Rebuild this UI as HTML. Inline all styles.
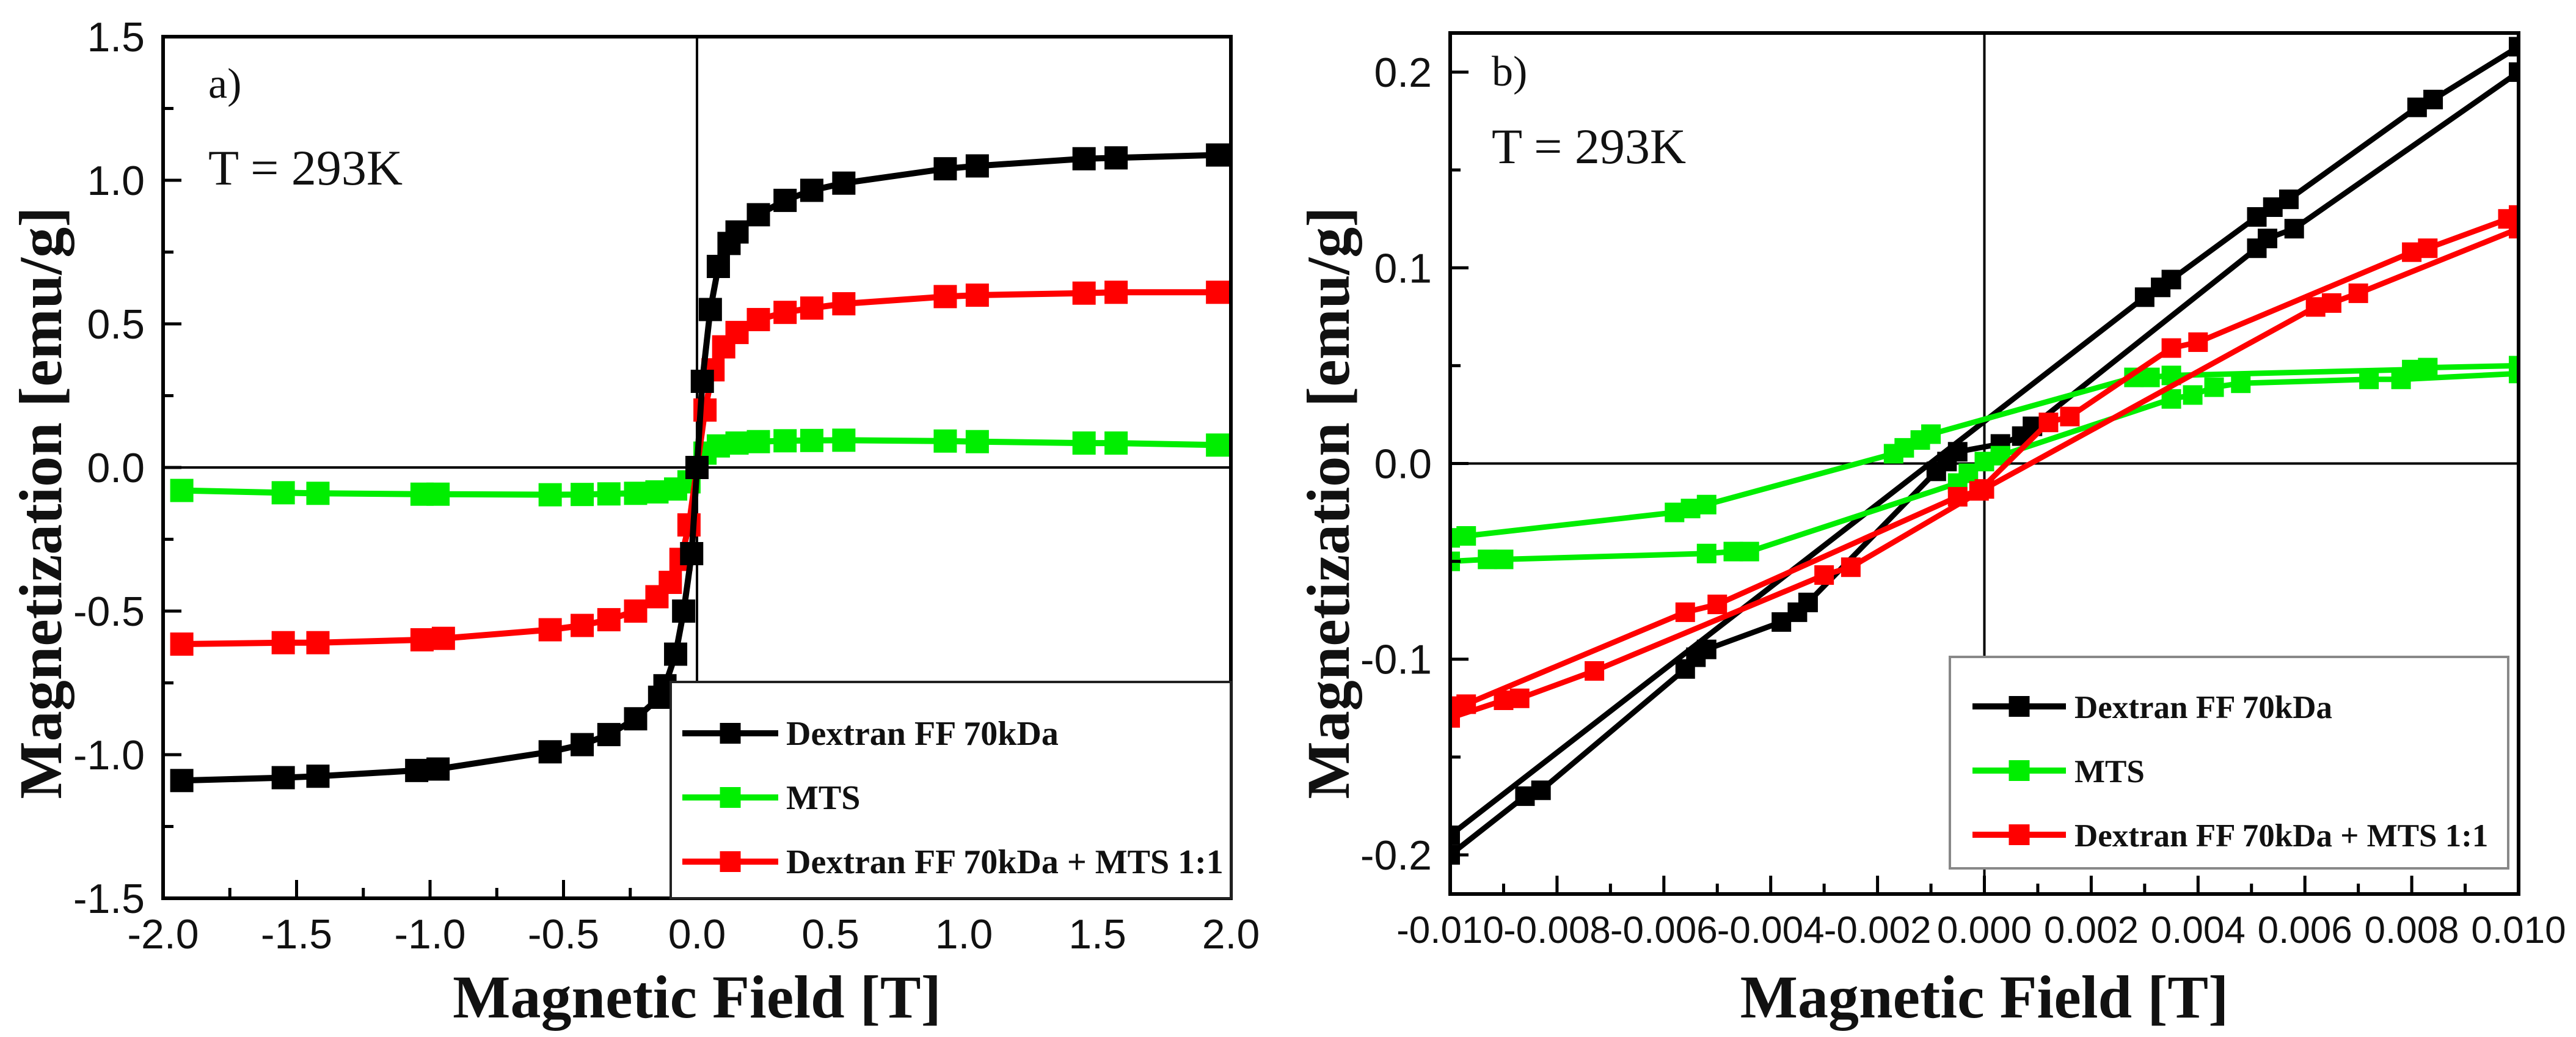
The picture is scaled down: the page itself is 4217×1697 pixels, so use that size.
<!DOCTYPE html>
<html><head><meta charset="utf-8"><style>
html,body{margin:0;padding:0;background:#fff;}
svg{display:block;}
</style></head><body>
<svg id="fig" xmlns="http://www.w3.org/2000/svg" width="4217" height="1697" viewBox="0 0 4217 1697">
<rect width="4217" height="1697" fill="#fff"/>
</svg>
<script>
// ---------- Panel a data ----------
const aBlackX=[-1.93,-1.55,-1.42,-1.05,-0.97,-0.55,-0.43,-0.33,-0.23,-0.14,-0.12,-0.08,-0.05,-0.02,0,0.02,0.05,0.08,0.12,0.15,0.23,0.33,0.43,0.55,0.93,1.05,1.45,1.57,1.95];
const aBlackY=[-1.09,-1.08,-1.075,-1.055,-1.05,-0.99,-0.965,-0.93,-0.875,-0.8,-0.76,-0.65,-0.5,-0.3,0,0.3,0.55,0.7,0.78,0.82,0.88,0.93,0.965,0.99,1.04,1.05,1.075,1.078,1.088];
const aRedX=[-1.93,-1.55,-1.42,-1.03,-0.95,-0.55,-0.43,-0.33,-0.23,-0.15,-0.1,-0.06,-0.03,0,0.03,0.06,0.1,0.15,0.23,0.33,0.43,0.55,0.93,1.05,1.45,1.57,1.95];
const aRedY=[-0.615,-0.61,-0.61,-0.6,-0.595,-0.565,-0.55,-0.53,-0.5,-0.45,-0.4,-0.32,-0.2,0,0.2,0.34,0.42,0.47,0.515,0.54,0.555,0.57,0.595,0.6,0.607,0.61,0.61];
const aGreenX=[-1.93,-1.55,-1.42,-1.03,-0.97,-0.55,-0.43,-0.33,-0.23,-0.15,-0.08,-0.03,0,0.03,0.08,0.15,0.23,0.33,0.43,0.55,0.93,1.05,1.45,1.57,1.95];
const aGreenY=[-0.08,-0.088,-0.09,-0.093,-0.093,-0.095,-0.094,-0.092,-0.09,-0.085,-0.075,-0.05,0,0.05,0.075,0.085,0.09,0.093,0.094,0.095,0.092,0.09,0.085,0.085,0.078];
const aXTicks=["-2.0","-1.5","-1.0","-0.5","0.0","0.5","1.0","1.5","2.0"];
const aYTicks=["-1.5","-1.0","-0.5","0.0","0.5","1.0","1.5"];
// ---------- Panel b data ----------
const bBlackUX=[-0.0100,0.0030,0.0033,0.0035,0.0051,0.0054,0.0057,0.0081,0.0084,0.0100];
const bBlackUY=[-0.190,0.085,0.090,0.094,0.126,0.131,0.135,0.182,0.186,0.213];
const bBlackLX=[-0.0100,-0.0086,-0.0083,-0.0056,-0.0054,-0.0052,-0.0038,-0.0035,-0.0033,-0.0009,-0.0007,-0.0005,0.0003,0.0007,0.0009,0.0051,0.0053,0.0058,0.0100];
const bBlackLY=[-0.200,-0.170,-0.167,-0.105,-0.099,-0.095,-0.081,-0.076,-0.071,-0.004,0.001,0.006,0.010,0.014,0.019,0.110,0.115,0.120,0.200];
const bGreenUX=[-0.0100,-0.0097,-0.0058,-0.0055,-0.0052,-0.0017,-0.0015,-0.0012,-0.0010,0.0028,0.0031,0.0035,0.0080,0.0083,0.0100];
const bGreenUY=[-0.038,-0.037,-0.025,-0.023,-0.021,0.005,0.008,0.012,0.015,0.044,0.044,0.045,0.048,0.049,0.050];
const bGreenLX=[-0.0100,-0.0093,-0.0090,-0.0052,-0.0047,-0.0044,-0.0005,-0.0003,0.0000,0.0003,0.0035,0.0039,0.0043,0.0048,0.0072,0.0078,0.0100];
const bGreenLY=[-0.050,-0.049,-0.049,-0.046,-0.045,-0.045,-0.010,-0.005,0.001,0.004,0.033,0.035,0.039,0.041,0.043,0.043,0.046];
const bRedUX=[-0.0100,-0.0097,-0.0056,-0.0050,-0.0005,-0.0001,0.0012,0.0016,0.0035,0.0040,0.0080,0.0083,0.0098,0.0100];
const bRedUY=[-0.124,-0.123,-0.076,-0.072,-0.017,-0.014,0.021,0.024,0.059,0.062,0.108,0.110,0.125,0.127];
const bRedLX=[-0.0100,-0.0090,-0.0087,-0.0073,-0.0030,-0.0025,0.0000,0.0062,0.0065,0.0070,0.0100];
const bRedLY=[-0.130,-0.121,-0.120,-0.106,-0.057,-0.053,-0.013,0.080,0.082,0.087,0.120];
const bXTicks=["-0.010","-0.008","-0.006","-0.004","-0.002","0.000","0.002","0.004","0.006","0.008","0.010"];
const bYTicks=["-0.2","-0.1","0.0","0.1","0.2"];
const legendLabels=["Dextran FF 70kDa","MTS","Dextran FF 70kDa + MTS 1:1"];
const legendColors=["#000000","#00ee00","#ff0000"];

const NS="http://www.w3.org/2000/svg";
const svg=document.getElementById('fig');
function mk(tag,attrs,parent){const e=document.createElementNS(NS,tag);for(const k in attrs)e.setAttribute(k,attrs[k]);(parent||svg).appendChild(e);return e;}

function panel(cfg){
  const g=mk('g',{});
  
  
  const sx=v=>cfg.L+(v-cfg.xmin)/(cfg.xmax-cfg.xmin)*(cfg.R-cfg.L);
  const sy=v=>cfg.B-(v-cfg.ymin)/(cfg.ymax-cfg.ymin)*(cfg.B-cfg.T);
  const cid='clip-'+cfg.name;
  const cp=mk('clipPath',{id:cid},g);
  mk('rect',{x:cfg.L,y:cfg.T,width:cfg.R-cfg.L,height:cfg.B-cfg.T},cp);
  const zx=mk('line',{x1:sx(0),x2:sx(0),y1:cfg.T,y2:cfg.B,stroke:'#000','stroke-width':4},g);
  
  
  const zy=mk('line',{x1:cfg.L,x2:cfg.R,y1:sy(0),y2:sy(0),stroke:'#000','stroke-width':4},g);
  
  
  const dg=mk('g',{'clip-path':'url(#'+cid+')'},g);
  cfg.series.forEach(s=>{
    const pts=s.x.map((v,i)=>sx(v).toFixed(1)+','+sy(s.y[i]).toFixed(1)).join(' ');
    const pl=mk('polyline',{points:pts,fill:'none',stroke:s.color,'stroke-width':cfg.lw,'stroke-linejoin':'round'},dg);
    
    
    s.x.forEach((v,i)=>{
      const r=mk('rect',{x:sx(v)-cfg.ms/2,y:sy(s.y[i])-cfg.ms/2,width:cfg.ms,height:cfg.ms,fill:s.color},dg);
      
      
    });
  });
  const fr=mk('rect',{x:cfg.L,y:cfg.T,width:cfg.R-cfg.L,height:cfg.B-cfg.T,fill:'none',stroke:'#000','stroke-width':6},g);
  
  
  const nx=cfg.xTicks.length;
  for(let i=0;i<nx;i++){
    const v=parseFloat(cfg.xTicks[i]);const X=sx(v);
    mk('line',{x1:X,x2:X,y1:cfg.B,y2:cfg.B-30,stroke:'#000','stroke-width':5},g);
    if(i<nx-1){const m=sx((v+parseFloat(cfg.xTicks[i+1]))/2);mk('line',{x1:m,x2:m,y1:cfg.B,y2:cfg.B-17,stroke:'#000','stroke-width':5},g);}
    const t=mk('text',{x:X,y:cfg.B+cfg.xlabDy,'text-anchor':'middle','font-family':'Liberation Sans, sans-serif','font-size':cfg.xTickFs,fill:'#111'},g);
    t.textContent=cfg.xTicks[i];
    
    
  }
  const ny=cfg.yTicks.length;
  for(let i=0;i<ny;i++){
    const v=parseFloat(cfg.yTicks[i]);const Y=sy(v);
    mk('line',{x1:cfg.L,x2:cfg.L+30,y1:Y,y2:Y,stroke:'#000','stroke-width':5},g);
    if(i<ny-1){const m=sy((v+parseFloat(cfg.yTicks[i+1]))/2);mk('line',{x1:cfg.L,x2:cfg.L+17,y1:m,y2:m,stroke:'#000','stroke-width':5},g);}
    const t=mk('text',{x:cfg.L-cfg.ylabDx,y:Y+24,'text-anchor':'end','font-family':'Liberation Sans, sans-serif','font-size':cfg.yTickFs,fill:'#111'},g);
    t.textContent=cfg.yTicks[i];
    
    
  }
  const xt=mk('text',{x:(cfg.L+cfg.R)/2,y:1665,'text-anchor':'middle','font-family':'Liberation Serif, serif','font-weight':'bold','font-size':100,fill:'#111'},g);
  xt.textContent='Magnetic Field [T]';
  
  
  const yt=mk('text',{x:0,y:0,transform:'translate('+cfg.ytX+',823) rotate(-90)','text-anchor':'middle','font-family':'Liberation Serif, serif','font-weight':'bold','font-size':100,fill:'#111'},g);
  yt.textContent='Magnetization [emu/g]';
  
  
  const pl=mk('text',{x:cfg.annX,y:cfg.annY1,'font-family':'Liberation Serif, serif','font-size':70,fill:'#111'},g);
  pl.textContent=cfg.label;
  
  
  const tt=mk('text',{x:cfg.annX,y:cfg.annY2,'font-family':'Liberation Serif, serif','font-size':82,fill:'#111'},g);
  tt.textContent='T = 293K';
  
  
  const lg=mk('g',{},g);
  
  
  const lb=mk('rect',{x:cfg.lgL,y:cfg.lgT,width:cfg.lgR-cfg.lgL,height:cfg.lgB-cfg.lgT,fill:'#fff',stroke:cfg.lgStroke,'stroke-width':4},lg);
  
  
  legendLabels.forEach((lab,i)=>{
    const y=cfg.lgY[i];
    const e=mk('g',{},lg);
    
    
    mk('line',{x1:cfg.lgLine[0],x2:cfg.lgLine[1],y1:y,y2:y,stroke:legendColors[i],'stroke-width':10},e);
    const mx=(cfg.lgLine[0]+cfg.lgLine[1])/2;
    mk('rect',{x:mx-17,y:y-17,width:34,height:34,fill:legendColors[i]},e);
    const t=mk('text',{x:cfg.lgText,y:y+19,'font-family':'Liberation Serif, serif','font-weight':'bold','font-size':cfg.lgFs,fill:'#111'},e);
    t.textContent=lab;
  });
}

panel({name:'panel-a',L:267,R:2015,T:60,B:1470,xmin:-2,xmax:2,ymin:-1.5,ymax:1.5,lw:10,ms:38,
  xTicks:aXTicks,yTicks:aYTicks,xTickFs:68,yTickFs:68,xlabDy:82,ylabDx:30,ytX:100,label:'a)',annX:341,annY1:160,annY2:302,
  lgL:1098,lgR:2015,lgT:1116,lgB:1470,lgStroke:'#222',lgY:[1200,1305,1410],lgLine:[1117,1274],lgText:1287,lgFs:56,
  series:[{name:'mts',color:'#00ee00',x:aGreenX,y:aGreenY},{name:'dextran-mts',color:'#ff0000',x:aRedX,y:aRedY},{name:'dextran',color:'#000000',x:aBlackX,y:aBlackY}]});

panel({name:'panel-b',L:2374,R:4123,T:54,B:1463,xmin:-0.01,xmax:0.01,ymin:-0.22,ymax:0.22,lw:9,ms:32,
  xTicks:bXTicks,yTicks:bYTicks,xTickFs:62,yTickFs:68,xlabDy:80,ylabDx:30,ytX:2208,label:'b)',annX:2442,annY1:140,annY2:267,
  lgL:3192,lgR:4106,lgT:1075,lgB:1421,lgStroke:'#888',lgY:[1156,1261,1366],lgLine:[3229,3382],lgText:3396,lgFs:53,
  series:[{name:'dextran-upper',color:'#000000',x:bBlackUX,y:bBlackUY},{name:'dextran-lower',color:'#000000',x:bBlackLX,y:bBlackLY},
          {name:'mts-upper',color:'#00ee00',x:bGreenUX,y:bGreenUY},{name:'mts-lower',color:'#00ee00',x:bGreenLX,y:bGreenLY},
          {name:'dextran-mts-upper',color:'#ff0000',x:bRedUX,y:bRedUY},{name:'dextran-mts-lower',color:'#ff0000',x:bRedLX,y:bRedLY}]});
</script>
</body></html>
